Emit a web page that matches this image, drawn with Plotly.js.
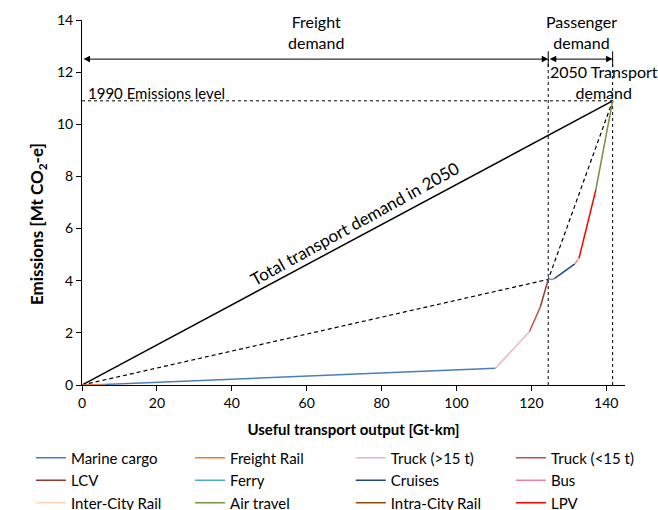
<!DOCTYPE html>
<html>
<head>
<meta charset="utf-8">
<script src="https://cdn.plot.ly/plotly-3.0.1.min.js"></script>
<style>html,body{margin:0;padding:0;background:#fff;}#chart{width:658px;height:510px;}</style>
</head>
<body>
<div id="chart"></div>
<script>
// Segments of the abatement-style curve, in drawing order
var segmentNames = ["Freight Rail", "Marine cargo", "Truck (>15 t)", "Truck (<15 t)", "LCV", "Ferry", "Intra-City Rail", "Cruises", "Bus", "Inter-City Rail", "LPV", "Air travel"];
// Cumulative transport output [Gt-km] at each breakpoint (first point is origin)
var cumOutput = [0, 6, 110.4, 119.5, 122.4, 124.5, 126.0, 126.2, 131.6, 132.5, 132.7, 137.2, 141.7];
// Cumulative emissions [Mt CO2-e] at each breakpoint
var cumEmissions = [0, 0.02, 0.64, 2.05, 3.0, 4.05, 4.07, 4.09, 4.65, 4.82, 4.85, 7.48, 10.9];
var segmentColors = {
  "Marine cargo": "#4a7ebb", "Freight Rail": "#ed7d31", "Truck (>15 t)": "#e6b9b8", "Truck (<15 t)": "#c0504d",
  "LCV": "#953735", "Ferry": "#4bacc6", "Cruises": "#1f497d", "Bus": "#f4819f",
  "Inter-City Rail": "#fcd5b5", "Air travel": "#77933c", "Intra-City Rail": "#984807", "LPV": "#ff0000"
};
// Legend layout: four columns, read row by row
var legendOrder = ["Marine cargo", "Freight Rail", "Truck (>15 t)", "Truck (<15 t)", "LCV", "Ferry", "Cruises", "Bus", "Inter-City Rail", "Air travel", "Intra-City Rail", "LPV"];

// Reference values
var emissions1990 = 10.9;
var freightDemand = 124.5;
var totalDemand = 141.7;
var totalEmissions = 10.9;
var freightEmissions = 4.05;
var arrowLevel = 12.5;
var xTicks = [0, 20, 40, 60, 80, 100, 120, 140];
var yTicks = [0, 2, 4, 6, 8, 10, 12, 14];

var font = "Lato, 'Open Sans', sans-serif";
var traces = [];
// Guide lines (not in legend)
traces.push({x: [0, totalDemand], y: [0, totalEmissions], mode: "lines", line: {color: "#000", width: 1.5}, showlegend: false, hoverinfo: "skip"});
traces.push({x: [0, freightDemand, totalDemand], y: [0, freightEmissions, totalEmissions], mode: "lines", line: {color: "#000", width: 1.2, dash: "4px,3px"}, showlegend: false, hoverinfo: "skip"});
traces.push({x: [0, totalDemand], y: [emissions1990, emissions1990], mode: "lines", line: {color: "#000", width: 1, dash: "dot"}, showlegend: false, hoverinfo: "skip"});
traces.push({x: [freightDemand, freightDemand], y: [0, arrowLevel], mode: "lines", line: {color: "#000", width: 1, dash: "dot"}, showlegend: false, hoverinfo: "skip"});
traces.push({x: [totalDemand, totalDemand], y: [0, arrowLevel], mode: "lines", line: {color: "#000", width: 1, dash: "dot"}, showlegend: false, hoverinfo: "skip"});

// Curve segments, added in legend order; each column of the legend is its own legend
var legendIds = ["legend", "legend2", "legend3", "legend4"];
legendOrder.forEach(function (name, k) {
  var i = segmentNames.indexOf(name);
  traces.push({
    x: [cumOutput[i], cumOutput[i + 1]],
    y: [cumEmissions[i], cumEmissions[i + 1]],
    mode: "lines", name: name, legend: legendIds[k % 4],
    line: {color: segmentColors[name], width: 1.5}
  });
});

var annotations = [
  {x: 62.4, y: 13.55, xref: "x", yref: "y", text: "Freight<br>demand", showarrow: false, font: {size: 16, color: "#000"}},
  {x: 133.3, y: 13.55, xref: "x", yref: "y", text: "Passenger<br>demand", showarrow: false, font: {size: 16, color: "#000"}},
  {x: 139.5, y: 11.62, xref: "x", yref: "y", text: "2050 Transport<br>demand", showarrow: false, font: {size: 16, color: "#000"}},
  {x: 1.2, y: 11.2, xref: "x", yref: "y", text: "1990 Emissions level", xanchor: "left", showarrow: false, font: {size: 15, color: "#000"}},
  {x: 72.8, y: 6.2, xref: "x", yref: "y", text: "Total transport demand in 2050", textangle: -29, showarrow: false, font: {size: 17, color: "#000"}},
  // Y-axis title
  {x: -0.081, y: 0.441, xref: "paper", yref: "paper", text: "<b>Emissions [Mt CO<sub>2</sub>-e]</b>", textangle: -90, showarrow: false, xanchor: "center", yanchor: "middle", font: {size: 17, color: "#000"}},
  // Demand arrows
  {x: freightDemand, y: arrowLevel, ax: 0, ay: arrowLevel, xref: "x", yref: "y", axref: "x", ayref: "y", text: "", showarrow: true, arrowside: "end+start", arrowhead: 2, arrowsize: 1.3, arrowwidth: 1, arrowcolor: "#000"},
  {x: totalDemand, y: arrowLevel, ax: freightDemand, ay: arrowLevel, xref: "x", yref: "y", axref: "x", ayref: "y", text: "", showarrow: true, arrowside: "end+start", arrowhead: 2, arrowsize: 1.3, arrowwidth: 1, arrowcolor: "#000"}
];

// Short solid end ticks of the demand arrows
var shapes = [freightDemand, totalDemand].map(function (xv) {
  return {type: "line", xref: "x", yref: "y", x0: xv, x1: xv, y0: arrowLevel - 0.3, y1: arrowLevel + 0.3, line: {color: "#000", width: 1}};
});

function legendAt(x) {
  return {orientation: "v", x: x, xanchor: "left", y: -0.155, yanchor: "top", font: {size: 15, family: font}, traceorder: "normal", bgcolor: "rgba(0,0,0,0)", tracegroupgap: 0};
}

var layout = {
  width: 658, height: 510,
  margin: {l: 82, r: 33, t: 20, b: 125, autoexpand: false},
  paper_bgcolor: "#fff", plot_bgcolor: "#fff",
  font: {family: font, size: 14, color: "#000"},
  showlegend: true,
  legend: legendAt(-0.094),
  legend2: legendAt(0.199),
  legend3: legendAt(0.495),
  legend4: legendAt(0.790),
  xaxis: {range: [0, 145], tickvals: xTicks, showline: true, linecolor: "#000", linewidth: 1, ticks: "outside", ticklen: 5, tickcolor: "#000", showgrid: false, zeroline: false,
    title: {text: "<b>Useful transport output [Gt-km]</b>", font: {size: 15}, standoff: 14}, tickfont: {size: 14}},
  yaxis: {range: [0, 14], tickvals: yTicks, showline: true, linecolor: "#000", linewidth: 1, ticks: "outside", ticklen: 5, tickcolor: "#000", showgrid: false, zeroline: false, tickfont: {size: 14}},
  annotations: annotations,
  shapes: shapes
};

Plotly.newPlot("chart", traces, layout, {displayModeBar: false, staticPlot: true});
</script>
</body>
</html>
